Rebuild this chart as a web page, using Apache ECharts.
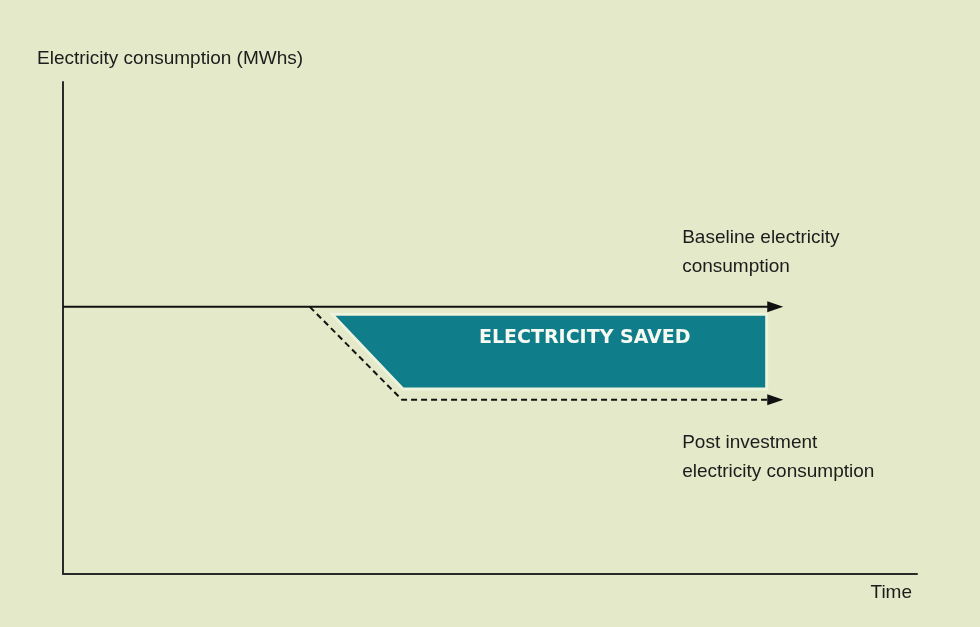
<!DOCTYPE html>
<html>
<head>
<meta charset="utf-8">
<title>Electricity saved</title>
<script src="https://cdn.jsdelivr.net/npm/echarts@6/dist/echarts.min.js"></script>
<style>
  html, body { margin: 0; padding: 0; background: #e4e9c9; }
  #chart { width: 980px; height: 627px; }
</style>
</head>
<body>
<div id="chart"></div>
<script>
/* time runs 0..100, consumption 0..100 (no units shown on the picture) */
const baseline = [[0, 54.3], [83.4, 54.3]]
const postInvestment = [[28.9, 54.3], [39.7, 35.4], [83.4, 35.4]]
const savedArea = [[31.5, 52.8], [82.4, 52.8], [82.4, 37.6], [39.8, 37.6]]
const notes = [
  { name: 'Baseline electricity\nconsumption', value: [72.5, 65.4] },
  { name: 'Post investment\nelectricity consumption', value: [72.5, 23.7] }
]
const savedText = { name: 'ELECTRICITY SAVED', value: [61.1, 48.0] }

const FONT = '"Liberation Sans", Arial, sans-serif'
const INK = '#1c1c1c'

// last point of a line gets a filled arrow head pointing right
function withArrow(points) {
  return points.map((p, i) => {
    if (i < points.length - 1) return { value: p, symbol: 'none' }
    return { value: p, symbol: 'triangle', symbolSize: [11, 16], symbolRotate: -90 }
  })
}

const chart = echarts.init(document.getElementById('chart'))
chart.setOption({
  backgroundColor: '#e4e9c9',
  animation: false,
  title: {
    text: 'Electricity consumption (MWhs)',
    left: 37,
    top: 49,
    padding: 0,
    textStyle: { fontFamily: FONT, fontSize: 19, fontWeight: 'normal', color: INK }
  },
  grid: { left: 63, right: 63, top: 82, bottom: 53 },
  xAxis: {
    type: 'value',
    min: 0,
    max: 100,
    name: 'Time',
    nameLocation: 'end',
    nameGap: -5,
    nameTextStyle: {
      fontFamily: FONT, fontSize: 19, color: INK,
      align: 'right', verticalAlign: 'top', padding: [9, 0, 0, 0]
    },
    axisLine: { lineStyle: { color: '#2a2a2a', width: 2 } },
    axisTick: { show: false },
    axisLabel: { show: false },
    splitLine: { show: false }
  },
  yAxis: {
    type: 'value',
    min: 0,
    max: 100,
    axisLine: { show: true, lineStyle: { color: '#2a2a2a', width: 2 } },
    axisTick: { show: false },
    axisLabel: { show: false },
    splitLine: { show: false }
  },
  series: [
    {
      name: 'saved',
      type: 'custom',
      data: [0],
      z: 1,
      renderItem: (params, api) => ({
        type: 'polygon',
        shape: { points: savedArea.map(p => api.coord(p)) },
        style: { fill: '#0f7d8a', stroke: '#eef3dc', lineWidth: 3 }
      })
    },
    {
      name: 'Baseline',
      type: 'line',
      z: 3,
      data: withArrow(baseline),
      lineStyle: { color: '#111', width: 2 },
      itemStyle: { color: '#111' }
    },
    {
      name: 'Post investment',
      type: 'line',
      z: 3,
      data: withArrow(postInvestment),
      lineStyle: { color: '#111', width: 2, type: [6, 4] },
      itemStyle: { color: '#111' }
    },
    {
      name: 'notes',
      type: 'scatter',
      z: 4,
      symbolSize: 0,
      silent: true,
      itemStyle: { opacity: 1 },
      data: [
        ...notes.map(n => ({
          name: n.name,
          value: n.value,
          label: {
            show: true, position: 'right', distance: 0, formatter: '{b}',
            fontFamily: FONT, fontSize: 19, lineHeight: 29, color: INK, align: 'left', opacity: 1
          }
        })),
        {
          name: savedText.name,
          value: savedText.value,
          label: {
            show: true, position: 'inside', formatter: '{b}', opacity: 1,
            fontFamily: '"DejaVu Sans", sans-serif', fontSize: 19, fontWeight: 'bold', color: '#f6faf2'
          }
        }
      ]
    }
  ]
})
</script>
</body>
</html>
